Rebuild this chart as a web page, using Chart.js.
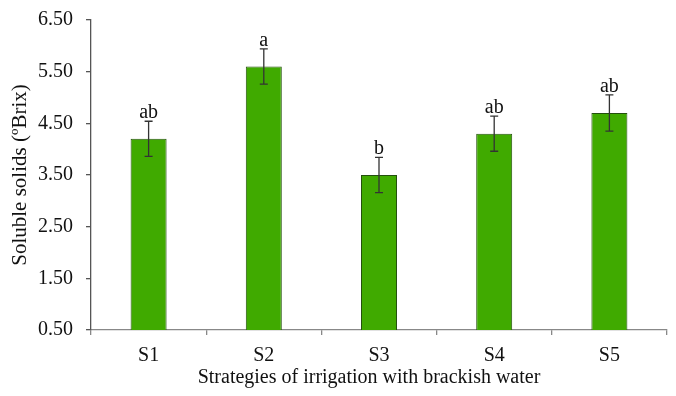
<!DOCTYPE html>
<html>
<head>
<meta charset="utf-8">
<script src="https://cdn.jsdelivr.net/npm/chart.js@4/dist/chart.umd.min.js"></script>
<style>
html,body{margin:0;padding:0;background:#fff;}
#wrap{width:676px;height:396px;}
</style>
</head>
<body>
<div id="wrap"><canvas id="c" width="676" height="396"></canvas></div>
<script>
const categories = ["S1", "S2", "S3", "S4", "S5"];
const solubleSolids = [4.20, 5.60, 3.50, 4.30, 4.70];
const errors = [0.34, 0.34, 0.34, 0.34, 0.35];
const letters = ["ab", "a", "b", "ab", "ab"];
const yMin = 0.5, yMax = 6.5, yStep = 1;
const xTitle = 'Strategies of irrigation with brackish water';
const yTitle = 'Soluble solids (ºBrix)';

const FONT = "'Liberation Serif', 'Times New Roman', serif";
const FS = 20;

const errorPlugin = {
  id: 'errorBars',
  afterDatasetsDraw(chart) {
    const ctx = chart.ctx;
    const meta = chart.getDatasetMeta(0);
    const y = chart.scales.y;
    ctx.save();
    ctx.strokeStyle = '#333';
    ctx.lineWidth = 1.3;
    meta.data.forEach((bar, i) => {
      const x = bar.x;
      const v = solubleSolids[i];
      const top = y.getPixelForValue(v + errors[i]);
      const bot = y.getPixelForValue(v - errors[i]);
      ctx.beginPath();
      ctx.moveTo(x, top); ctx.lineTo(x, bot);
      ctx.moveTo(x - 4, top); ctx.lineTo(x + 4, top);
      ctx.moveTo(x - 4, bot); ctx.lineTo(x + 4, bot);
      ctx.stroke();
      ctx.fillStyle = '#111';
      ctx.font = FS + 'px ' + FONT;
      ctx.textAlign = 'center';
      ctx.textBaseline = 'alphabetic';
      ctx.fillText(letters[i], x, top - 3);
    });
    ctx.restore();
  },
  afterDraw(chart) {
    const ctx = chart.ctx;
    const a = chart.chartArea;
    ctx.save();
    ctx.fillStyle = '#111';
    ctx.font = FS + 'px ' + FONT;
    ctx.textAlign = 'center';
    ctx.textBaseline = 'alphabetic';
    ctx.fillText(xTitle, (a.left + a.right) / 2 - 10, chart.height - 13);
    ctx.restore();
  }
};

new Chart(document.getElementById('c'), {
  type: 'bar',
  data: {
    labels: categories,
    datasets: [{
      data: solubleSolids,
      backgroundColor: '#40aa00',
      borderColor: '#24500e',
      borderWidth: 1,
      barPercentage: 0.3125,
      categoryPercentage: 1.0
    }]
  },
  options: {
    responsive: false,
    animation: false,
    devicePixelRatio: 1,
    layout: { padding: { top: 20, right: 9, left: 0, bottom: 0 } },
    plugins: { legend: { display: false }, tooltip: { enabled: false } },
    scales: {
      x: {
        offset: true,
        grid: { offset: true, drawOnChartArea: false, tickLength: 5, color: '#888', lineWidth: 1.3 },
        border: { color: '#888', width: 1.3 },
        ticks: { color: '#111', font: { family: FONT, size: FS }, padding: 9 },
        title: { display: false },
        afterFit(s) { s.height = 66; s.paddingLeft = 0; s.paddingRight = 0; }
      },
      y: {
        min: yMin, max: yMax,
        grid: { drawOnChartArea: false, tickLength: 5, color: '#555', lineWidth: 1.3 },
        border: { color: '#555', width: 1.3 },
        ticks: { stepSize: yStep, color: '#111', font: { family: FONT, size: FS }, padding: 13,
                 callback: v => Number(v).toFixed(2) },
        title: { display: true, text: yTitle, color: '#111',
                 font: { family: FONT, size: 21 }, padding: { top: 8, bottom: 0 } },
        afterFit(s) { s.width = 91; s.paddingTop = 0; s.paddingBottom = 0; }
      }
    }
  },
  plugins: [errorPlugin]
});
</script>
</body>
</html>
